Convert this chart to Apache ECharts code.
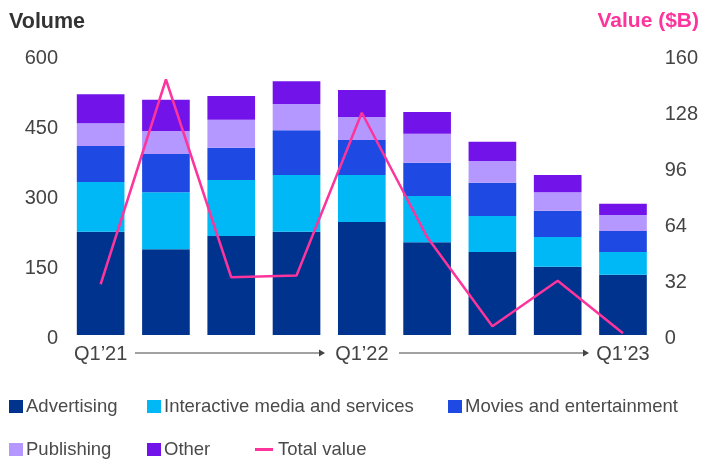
<!DOCTYPE html>
<html>
<head>
<meta charset="utf-8">
<script src="https://cdn.jsdelivr.net/npm/echarts@6/dist/echarts.min.js"></script>
<style>html,body{margin:0;padding:0;background:#fff}#c{width:701px;height:459px}</style>
</head>
<body>
<div id="c"></div>
<script>
var categories = ["Q1’21","Q2’21","Q3’21","Q4’21","Q1’22","Q2’22","Q3’22","Q4’22","Q1’23"];
var advertising = [221,184,212,221,242,199,178,146,129];
var interactive = [107,122,120,122,101,99,77,64,49];
var movies = [77,82,69,96,75,71,71,56,45];
var publishing = [49,49,60,56,49,62,47,40,34];
var other = [62,67,51,49,58,47,41,37,24];
var totalValue = [29,146,33,34,127,56,5,31,1];
var volumeTicks = {min:0,max:600,interval:150};
var valueTicks = {min:0,max:160,interval:32};

var FONT = "Arial, 'Liberation Sans', sans-serif";
var colors = {Advertising:'#00338D','Interactive media and services':'#00B8F5','Movies and entertainment':'#1E49E2',Publishing:'#B497FF',Other:'#7213EA','Total value':'#FD349C'};

function bar(name, data){
  return {name:name,type:'bar',stack:'v',data:data,barCategoryGap:'27%',
    itemStyle:{color:colors[name]},emphasis:{disabled:true},animation:false};
}
function leg(name, left, top, isLine){
  return {data:[name],left:left,top:top,icon:'rect',itemWidth:isLine?18:14,itemHeight:isLine?3:13,
    selectedMode:false,padding:0,itemGap:0,
    textStyle:{fontFamily:FONT,fontSize:18.5,color:'#4a4a4a',padding:[0,0,0,isLine?0:-2]}};
}
var yLabel = {margin:10,fontSize:20,color:'#444',fontFamily:FONT,
  formatter:'{a|{value}}',rich:{a:{fontSize:20,color:'#444',fontFamily:FONT,padding:[7,0,0,0]}}};
var chart = echarts.init(document.getElementById('c'),null,{renderer:'canvas'});
chart.setOption({
  animation:false,
  textStyle:{fontFamily:FONT},
  grid:{left:68,right:44,top:55,bottom:124,containLabel:false},
  title:[
    {text:'Volume',left:9,top:11,padding:0,textStyle:{fontFamily:FONT,fontSize:21.5,fontWeight:'bold',color:'#333'}},
    {text:'Value ($B)',right:2,top:11,padding:0,textStyle:{fontFamily:FONT,fontSize:21,fontWeight:'bold',color:'#FD349C'}}
  ],
  legend:[
    leg('Advertising',9,397),
    leg('Interactive media and services',147,397),
    leg('Movies and entertainment',448,397),
    leg('Publishing',9,440),
    leg('Other',147,440),
    leg('Total value',255,440,true)
  ],
  xAxis:{type:'category',data:categories,
    axisLine:{show:false},axisTick:{show:false},
    axisLabel:{interval:3,margin:9,fontSize:20,color:'#444',fontFamily:FONT}},
  yAxis:[
    {type:'value',min:volumeTicks.min,max:volumeTicks.max,interval:volumeTicks.interval,
      axisLine:{show:false},axisTick:{show:false},splitLine:{show:false},
      axisLabel:yLabel},
    {type:'value',min:valueTicks.min,max:valueTicks.max,interval:valueTicks.interval,position:'right',
      axisLine:{show:false},axisTick:{show:false},splitLine:{show:false},
      axisLabel:Object.assign({},yLabel,{margin:9})}
  ],
  series:[
    bar('Advertising',advertising),
    bar('Interactive media and services',interactive),
    bar('Movies and entertainment',movies),
    bar('Publishing',publishing),
    bar('Other',other),
    {name:'Total value',type:'line',yAxisIndex:1,data:totalValue,symbol:'none',
      lineStyle:{color:colors['Total value'],width:2.5},itemStyle:{color:colors['Total value']},
      emphasis:{disabled:true},z:5}
  ],
  graphic:[
    {type:'line',shape:{x1:135,y1:353,x2:323,y2:353},style:{stroke:'#444',lineWidth:1.2}},
    {type:'polygon',shape:{points:[[325,353],[319,349.5],[319,356.5]]},style:{fill:'#444'}},
    {type:'line',shape:{x1:399,y1:353,x2:587,y2:353},style:{stroke:'#444',lineWidth:1.2}},
    {type:'polygon',shape:{points:[[589,353],[583,349.5],[583,356.5]]},style:{fill:'#444'}}
  ]
});
</script>
</body>
</html>
